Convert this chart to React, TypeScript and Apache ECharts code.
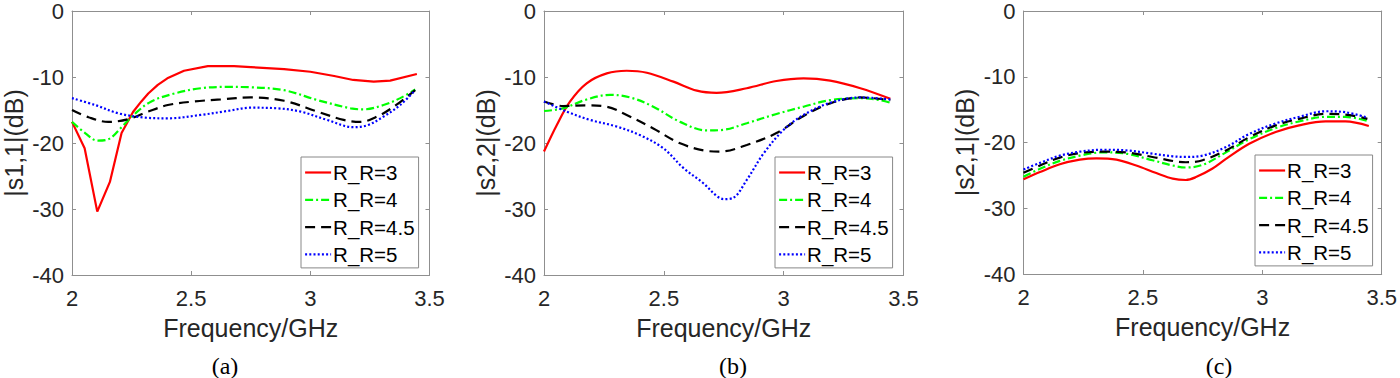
import React, { useEffect, useRef } from "react";
import * as echarts from "echarts";

const legendNames = ["R_R=3", "R_R=4", "R_R=4.5", "R_R=5"];
const yTitles = ["|s1,1|(dB)", "|s2,2|(dB)", "|s2,1|(dB)"];
const captions = ["(a)", "(b)", "(c)"];
const xTitle = "Frequency/GHz";

// Panel (a) |S11|
const aF3 = [2.0, 2.053, 2.106, 2.159, 2.208, 2.256, 2.291, 2.32, 2.36, 2.4, 2.47, 2.57, 2.68, 2.75, 2.89, 3.0, 3.1, 3.18, 3.266, 3.335, 3.447];
const aV3 = [-16.8, -20.8, -30.4, -25.9, -18.5, -15.3, -13.7, -12.5, -11.2, -10.2, -9.05, -8.35, -8.35, -8.5, -8.8, -9.2, -9.85, -10.45, -10.7, -10.55, -9.55];
const aF4 = [2.0, 2.055, 2.107, 2.152, 2.208, 2.263, 2.333, 2.43, 2.54, 2.652, 2.75, 2.89, 3.03, 3.17, 3.224, 3.307, 3.377, 3.44];
const aV4 = [-16.8, -18.5, -19.65, -19.45, -17.6, -15.6, -13.7, -12.5, -11.7, -11.5, -11.56, -12.0, -13.5, -14.75, -14.9, -14.25, -13.2, -11.9];
const aF45 = [2.0, 2.069, 2.152, 2.235, 2.319, 2.402, 2.513, 2.624, 2.75, 2.89, 3.03, 3.14, 3.21, 3.28, 3.35, 3.44];
const aV45 = [-15.0, -16.1, -16.8, -16.4, -15.25, -14.25, -13.7, -13.4, -13.1, -13.6, -15.25, -16.5, -16.8, -16.0, -14.5, -12.0];
const aF5 = [2.0, 2.097, 2.194, 2.305, 2.402, 2.54, 2.652, 2.75, 2.863, 2.96, 3.07, 3.18, 3.24, 3.307, 3.377, 3.44];
const aV5 = [-13.2, -14.25, -15.5, -16.15, -16.26, -15.75, -15.15, -14.65, -14.75, -15.25, -16.5, -17.6, -17.3, -16.0, -14.25, -12.0];

// Panel (b) |S22|
const bF3 = [2.0, 2.053, 2.109, 2.178, 2.262, 2.345, 2.429, 2.54, 2.638, 2.72, 2.846, 2.97, 3.083, 3.194, 3.32, 3.445];
const bV3 = [-21.3, -17.3, -13.7, -10.95, -9.45, -9.05, -9.35, -10.7, -12.07, -12.4, -11.7, -10.6, -10.2, -10.55, -11.7, -13.3];
const bF4 = [2.0, 2.08, 2.178, 2.276, 2.36, 2.456, 2.568, 2.68, 2.749, 2.846, 2.97, 3.083, 3.194, 3.32, 3.403, 3.445];
const bV4 = [-15.15, -14.75, -13.4, -12.7, -13.1, -14.5, -16.8, -18.1, -18.0, -17.0, -15.6, -14.5, -13.5, -13.2, -13.5, -13.9];
const bF45 = [2.0, 2.08, 2.178, 2.262, 2.345, 2.456, 2.568, 2.68, 2.735, 2.846, 2.97, 3.083, 3.194, 3.32, 3.445];
const bV45 = [-13.7, -14.4, -14.3, -14.5, -15.75, -17.8, -20.05, -21.2, -21.3, -20.3, -18.5, -15.9, -14.0, -13.1, -13.5];
const bF5 = [2.0, 2.095, 2.192, 2.303, 2.4, 2.498, 2.582, 2.665, 2.72, 2.75, 2.79, 2.846, 2.916, 3.0, 3.083, 3.194, 3.32, 3.445];
const bV5 = [-13.7, -15.25, -16.5, -17.5, -18.8, -20.8, -23.8, -26.1, -28.0, -28.5, -28.3, -25.6, -21.6, -18.0, -15.75, -13.9, -13.1, -13.4];

// Panel (c) |S21|
const cF3 = [2.0, 2.069, 2.152, 2.236, 2.305, 2.389, 2.472, 2.556, 2.625, 2.68, 2.72, 2.79, 2.848, 2.945, 3.056, 3.154, 3.265, 3.348, 3.446];
const cV3 = [-25.6, -24.5, -23.3, -22.6, -22.4, -22.6, -23.5, -24.65, -25.5, -25.7, -25.3, -24.0, -22.5, -20.2, -18.4, -17.4, -16.8, -16.8, -17.5];
const cF4 = [2.0, 2.069, 2.152, 2.236, 2.333, 2.43, 2.54, 2.625, 2.68, 2.75, 2.848, 2.945, 3.056, 3.154, 3.265, 3.348, 3.44];
const cV4 = [-25.2, -24.0, -22.8, -22.0, -21.5, -21.7, -22.7, -23.5, -23.8, -23.4, -21.5, -19.5, -17.8, -16.8, -16.1, -16.1, -16.7];
const cF45 = [2.0, 2.069, 2.152, 2.236, 2.333, 2.43, 2.54, 2.68, 2.75, 2.848, 2.945, 3.056, 3.154, 3.265, 3.348, 3.44];
const cV45 = [-24.6, -23.5, -22.3, -21.6, -21.4, -21.5, -22.2, -23.0, -22.7, -21.2, -19.2, -17.4, -16.4, -15.65, -15.75, -16.4];
const cF5 = [2.0, 2.069, 2.152, 2.236, 2.333, 2.43, 2.54, 2.625, 2.68, 2.75, 2.848, 2.945, 3.056, 3.154, 3.265, 3.348, 3.44];
const cV5 = [-24.1, -23.1, -22.0, -21.4, -21.1, -21.2, -21.7, -22.1, -22.2, -22.0, -20.7, -18.7, -17.1, -16.1, -15.25, -15.4, -16.2];

const panels = [
  [[aF3, aV3], [aF4, aV4], [aF45, aV45], [aF5, aV5]],
  [[bF3, bV3], [bF4, bV4], [bF45, bV45], [bF5, bV5]],
  [[cF3, cV3], [cF4, cV4], [cF45, cV45], [cF5, cV5]],
];

const FONT = "Liberation Sans";
const AXIS_COLOR = "#8f8f8f";
const LABEL_COLOR = "#262626";

const lineStyles: any[] = [
  { color: "#ff0000", type: "solid" },
  { color: "#00ff00", type: [8, 3, 2, 3] },
  { color: "#000000", type: [10, 6] },
  { color: "#0000ff", type: [2, 2.2] },
];

const gridPos = [
  { left: 70, top: 11 },
  { left: 544, top: 11 },
  { left: 1023.5, top: 10 },
];
const legendPos = [
  { left: 301, top: 157 },
  { left: 775, top: 157 },
  { left: 1255, top: 155 },
];
const captionPos = [
  { x: 225, y: 366 },
  { x: 733, y: 366 },
  { x: 1219, y: 366 },
];

export default function App() {
  const ref = useRef<HTMLDivElement>(null);
  useEffect(() => {
    if (!ref.current) return;
    const chart = echarts.init(ref.current, undefined, { renderer: "svg" });
    const grid: any[] = [];
    const xAxis: any[] = [];
    const yAxis: any[] = [];
    const series: any[] = [];
    const legend: any[] = [];
    const graphic: any[] = [];
    const tick = { show: true, inside: true, length: 4, lineStyle: { color: AXIS_COLOR } };
    const line = { show: true, onZero: false, lineStyle: { color: AXIS_COLOR, width: 1 } };
    panels.forEach((panel, p) => {
      grid.push({ left: gridPos[p].left, top: gridPos[p].top, width: 359.5, height: 264, containLabel: false });
      xAxis.push({
        type: "value", gridIndex: p, min: 2, max: 3.5, interval: 0.5, position: "bottom",
        axisLine: line, axisTick: tick, splitLine: { show: false },
        axisLabel: { color: LABEL_COLOR, fontSize: 22, fontFamily: FONT, margin: 12 },
        name: xTitle, nameLocation: "middle", nameGap: 40,
        nameTextStyle: { color: LABEL_COLOR, fontSize: 25, fontFamily: FONT },
      });
      xAxis.push({
        type: "value", gridIndex: p, min: 2, max: 3.5, interval: 0.5, position: "top",
        axisLine: line, axisTick: tick, splitLine: { show: false }, axisLabel: { show: false },
      });
      yAxis.push({
        type: "value", gridIndex: p, min: -40, max: 0, interval: 10, position: "left",
        axisLine: line, axisTick: tick, splitLine: { show: false },
        axisLabel: { color: LABEL_COLOR, fontSize: 22, fontFamily: FONT, margin: 8 },
        name: yTitles[p], nameLocation: "middle", nameGap: 46, nameRotate: 90,
        nameTextStyle: { color: LABEL_COLOR, fontSize: 25, fontFamily: FONT },
      });
      yAxis.push({
        type: "value", gridIndex: p, min: -40, max: 0, interval: 10, position: "right",
        axisLine: line, axisTick: tick, splitLine: { show: false }, axisLabel: { show: false },
      });
      panel.forEach(([fs, vs], s) => {
        series.push({
          type: "line",
          name: legendNames[s],
          xAxisIndex: p * 2,
          yAxisIndex: p * 2,
          data: fs.map((f: number, i: number) => [f, vs[i]]),
          showSymbol: false,
          symbol: "none",
          smooth: p === 0 && s === 0 ? false : 0.35,
          color: lineStyles[s].color,
          lineStyle: { color: lineStyles[s].color, width: 2.2, type: lineStyles[s].type },
          z: 2 + s,
        });
      });
      legend.push({
        orient: "vertical",
        left: legendPos[p].left,
        top: legendPos[p].top,
        data: legendNames,
        itemWidth: 26,
        itemHeight: 14,
        itemGap: 6.3,
        padding: [5, 4, 3, 3],
        backgroundColor: "#ffffff",
        borderColor: "#888888",
        borderWidth: 1,
        borderRadius: 0,
        selectedMode: false,
        itemStyle: { opacity: 0 },
        lineStyle: { width: 2.2 },
        textStyle: { fontSize: 20.5, fontFamily: FONT, color: "#000", lineHeight: 20, padding: [0, 0, 0, -3] },
      });
      graphic.push({
        type: "text",
        x: captionPos[p].x,
        y: captionPos[p].y,
        style: {
          text: captions[p],
          fontSize: 24,
          fontFamily: "Liberation Serif",
          fill: "#000",
          align: "center",
          verticalAlign: "middle",
        },
      });
    });
    chart.setOption({
      animation: false,
      backgroundColor: "#ffffff",
      grid,
      xAxis,
      yAxis,
      series,
      legend,
      graphic,
    });
    return () => chart.dispose();
  }, []);
  return (
    <div
      ref={ref}
      style={{ position: "fixed", left: 0, top: 0, width: 1400, height: 378, background: "#fff" }}
    />
  );
}
